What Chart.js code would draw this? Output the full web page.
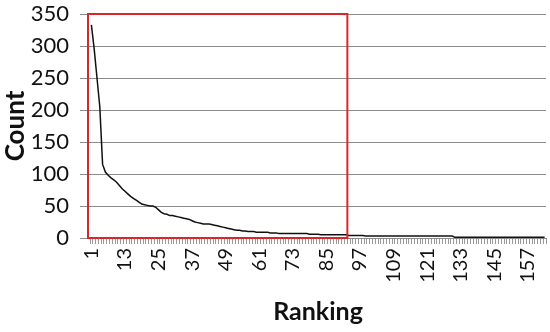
<!DOCTYPE html>
<html>
<head>
<meta charset="utf-8">
<script src="https://cdn.jsdelivr.net/npm/chart.js@4"></script>
<style>
  html, body { margin: 0; padding: 0; background: #fff; }
  #wrap { width: 550px; height: 332px; }
</style>
</head>
<body>
<div id="wrap"><canvas id="chart"></canvas></div>
<script>
// ranking positions 1..163
const rankings = [];
for (let i = 1; i <= 163; i++) rankings.push(String(i));

// counts
const counts = [
  333, 295, 250, 205, 115, 103, 98, 94, 91, 87,
  82, 77, 73, 69, 65, 62, 59, 56, 53, 52,
  51, 50, 50, 48, 44, 40, 38, 37, 35, 35,
  34, 33, 32, 31, 30, 29, 27, 25, 24, 23,
  22, 22, 22, 21, 20, 19, 18, 17, 16, 15,
  14, 13, 12, 12, 11, 11, 10, 10, 10, 9,
  9, 9, 9, 9, 8, 8, 8, 7, 7, 7,
  7, 7, 7, 7, 7, 7, 7, 7, 6, 6,
  6, 6, 5, 5, 5, 5, 5, 5, 5, 5,
  5, 5, 4, 4, 4, 4, 4, 4, 3, 3,
  3, 3, 3, 3, 3, 3, 3, 3, 3, 3,
  3, 3, 3, 3, 3, 3, 3, 3, 3, 3,
  3, 3, 3, 3, 3, 3, 3, 3, 3, 3,
  1, 1, 1, 1, 1, 1, 1, 1, 1, 1,
  1, 1, 1, 1, 1, 1, 1, 1, 1, 1,
  1, 1, 1, 1, 1, 1, 1, 1, 1, 1,
  1, 1, 1
];

const yTicks = [0, 50, 100, 150, 200, 250, 300, 350];
const labelEvery = 12;

// red box drawn around the first ranks
const boxFrom = 1;
const boxTo = 92;
const boxTop = 350;

const boxPlugin = {
  id: "box",
  afterDatasetsDraw(chart) {
    const x = chart.scales.x;
    const y = chart.scales.y;
    const half = (x.getPixelForValue(1) - x.getPixelForValue(0)) / 2;
    const left = x.getPixelForValue(boxFrom - 1) - half - 2;
    const right = x.getPixelForValue(boxTo - 1) + half;
    const top = y.getPixelForValue(boxTop);
    const bottom = y.getPixelForValue(0);
    const ctx = chart.ctx;
    ctx.save();
    ctx.strokeStyle = "#d8262b";
    ctx.lineWidth = 2;
    ctx.strokeRect(left, top, right - left, bottom - top);
    ctx.restore();
  }
};

new Chart(document.getElementById("chart"), {
  type: "line",
  data: {
    labels: rankings,
    datasets: [
      {
        data: counts,
        borderColor: "#111",
        borderWidth: 1.5,
        pointRadius: 0,
        tension: 0,
      },
    ],
  },
  options: {
    responsive: true,
    maintainAspectRatio: false,
    animation: false,
    layout: { padding: { top: 14, right: 4, bottom: 0, left: 0 } },
    plugins: { legend: { display: false }, tooltip: { enabled: false } },
    scales: {
      x: {
        offset: true,
        afterFit: (s) => {
          s.height = 94;
          s.paddingLeft = 0;
          s.paddingRight = 0;
        },
        grid: { drawOnChartArea: false, drawTicks: true, tickLength: 6, color: "#9a9a9a", offset: true },
        border: { display: true, color: "#8c8c8c" },
        ticks: {
          autoSkip: false,
          minRotation: 90,
          maxRotation: 90,
          padding: 4,
          color: "#111",
          font: { family: "Lato", size: 20 },
          callback: (v, i) => (i % labelEvery === 0 ? rankings[i] : ""),
        },
        title: {
          display: true,
          text: "Ranking",
          color: "#111",
          font: { family: "Lato", size: 25, weight: "bold" },
          padding: { top: 0, bottom: 5 },
        },
      },
      y: {
        min: 0,
        max: 350,
        afterFit: (s) => {
          s.width = 90;
          s.paddingTop = 0;
          s.paddingBottom = 0;
        },
        afterBuildTicks: (s) => { s.ticks = yTicks.map((v) => ({ value: v })); },
        grid: { color: "#8c8c8c", tickLength: 10 },
        border: { display: false },
        ticks: {
          padding: 11,
          color: "#111",
          font: { family: "Lato", size: 22 },
        },
        title: {
          display: true,
          text: "Count",
          color: "#111",
          font: { family: "Lato", size: 26, weight: "bold" },
          padding: { top: 0, bottom: 0 },
        },
      },
    },
  },
  plugins: [boxPlugin],
});
</script>
</body>
</html>
